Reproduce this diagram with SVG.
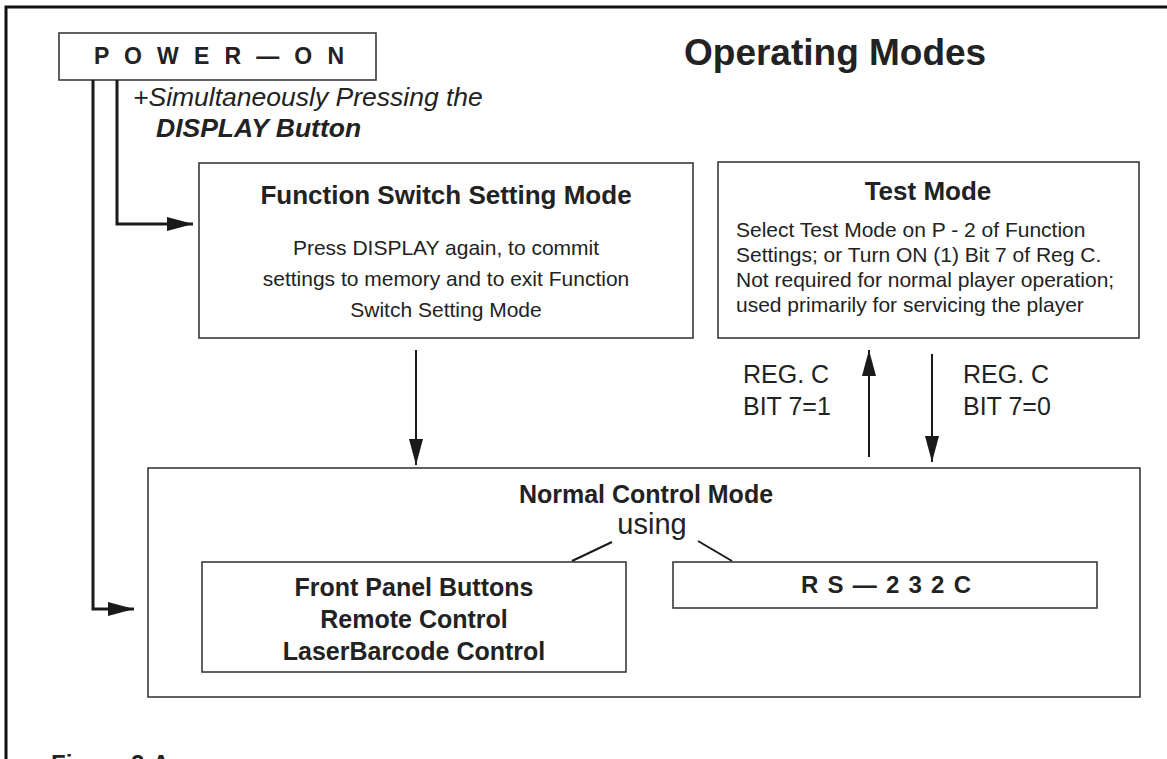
<svg xmlns="http://www.w3.org/2000/svg" width="1167" height="759" viewBox="0 0 1167 759">
  <style>
    .box { fill: #fff; stroke: #3a3a3a; stroke-width: 1.6; }
    .frame { fill: none; stroke: #111; stroke-width: 3; }
    .wire { fill: none; stroke: #1a1a1a; stroke-width: 3; }
    .thin { fill: none; stroke: #1a1a1a; stroke-width: 2; }
    text { font-family: "Liberation Sans", Arial, sans-serif; fill: #222; }
    .b { font-weight: bold; }
    .title { font-size: 26px; font-weight: bold; text-anchor: middle; }
    .body { font-size: 21px; }
    .mid { text-anchor: middle; }
  </style>
  <defs>
    <marker id="arrow" markerUnits="userSpaceOnUse" markerWidth="28" markerHeight="16" refX="26" refY="7" orient="auto">
      <path d="M0,0 L26,7 L0,14 Z" fill="#1a1a1a"/>
    </marker>
  </defs>

  <rect width="1167" height="759" fill="#fff"/>

  <!-- page frame (open at right and bottom) -->
  <path class="frame" d="M6,759 V7 H1167"/>

  <text x="684" y="65" class="b" style="font-size:37px">Operating Modes</text>

  <g id="power-on">
    <rect class="box" x="59" y="33" width="317" height="47"/>
    <text x="94" y="64" class="b" style="font-size:23px" textLength="250" lengthAdjust="spacing">P O W E R — O N</text>
  </g>

  <g id="display-note">
    <text x="133" y="106" style="font-size:26.5px;font-style:italic">+Simultaneously Pressing the</text>
    <text x="156" y="137" style="font-size:26.5px;font-style:italic;font-weight:bold">DISPLAY Button</text>
  </g>

  <g id="function-switch">
    <rect class="box" x="199" y="163" width="494" height="175"/>
    <text x="446" y="204" class="title">Function Switch Setting Mode</text>
    <text class="body mid" x="446" y="255">Press DISPLAY again, to commit</text>
    <text class="body mid" x="446" y="286">settings to memory and to exit Function</text>
    <text class="body mid" x="446" y="317">Switch Setting Mode</text>
  </g>

  <g id="test-mode">
    <rect class="box" x="718" y="162" width="421" height="176"/>
    <text x="928" y="200" class="title">Test Mode</text>
    <text class="body" x="736" y="237">Select Test Mode on P - 2 of Function</text>
    <text class="body" x="736" y="262">Settings; or Turn ON (1) Bit 7 of Reg C.</text>
    <text class="body" x="736" y="287">Not required for normal player operation;</text>
    <text class="body" x="736" y="312">used primarily for servicing the player</text>
  </g>

  <g id="normal-control">
    <rect class="box" x="148" y="468" width="992" height="229"/>
    <text x="646" y="503" class="title" style="font-size:25px">Normal Control Mode</text>
    <text x="652" y="534" class="mid" style="font-size:29px">using</text>
  </g>

  <g id="front-panel">
    <rect class="box" x="202" y="562" width="424" height="110"/>
    <text x="414" y="596" class="title" style="font-size:25px">Front Panel Buttons</text>
    <text x="414" y="628" class="title" style="font-size:25px">Remote Control</text>
    <text x="414" y="660" class="title" style="font-size:25px">LaserBarcode Control</text>
  </g>

  <g id="rs232c">
    <rect class="box" x="673" y="562" width="424" height="46"/>
    <text x="801" y="593" class="b" style="font-size:24px" textLength="170" lengthAdjust="spacing">R S — 2 3 2 C</text>
  </g>

  <g id="connectors">
    <path class="wire" d="M117,80 V224 H193" marker-end="url(#arrow)"/>
    <path class="wire" d="M93,80 V609 H134" marker-end="url(#arrow)"/>
    <path class="thin" d="M416,350 V465" marker-end="url(#arrow)"/>
    <path class="thin" d="M869,457 V350" marker-end="url(#arrow)"/>
    <path class="thin" d="M932,354 V462" marker-end="url(#arrow)"/>
    <path class="thin" d="M612,542 L572,561"/>
    <path class="thin" d="M698,541 L732,561"/>
  </g>

  <g id="register-labels">
    <text x="743" y="383" style="font-size:25px">REG. C</text>
    <text x="743" y="415" style="font-size:25px">BIT 7=1</text>
    <text x="963" y="383" style="font-size:25px">REG. C</text>
    <text x="963" y="415" style="font-size:25px">BIT 7=0</text>
  </g>

  <text x="51" y="772" class="b" style="font-size:24px">Figure 2-A</text>
</svg>
